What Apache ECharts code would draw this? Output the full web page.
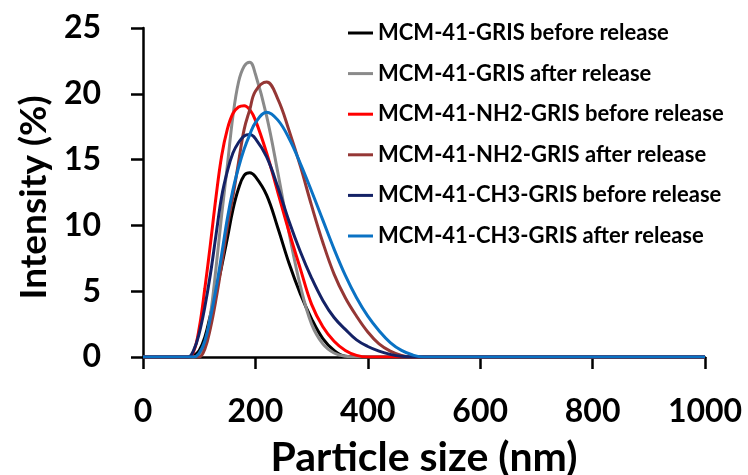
<!DOCTYPE html>
<html>
<head>
<meta charset="UTF-8">
<title>Particle size distribution</title>
<script src="https://cdn.jsdelivr.net/npm/echarts@6/dist/echarts.min.js"></script>
<style>
  html, body { margin: 0; padding: 0; background: #fff; }
  #chart { width: 748px; height: 475px; }
</style>
</head>
<body>
<div id="chart"></div>
<script>
  // particle size (nm) sample positions, shared by every curve
  var sizes = [0, 80, 90, 100, 110, 120, 130, 140, 150, 160, 170, 180, 190, 200, 220, 240, 260, 280, 300, 320, 340, 360, 380, 400, 420, 440, 460, 480, 500, 1000];

  // intensity (%)
  var gris_before     = [0, 0, 0.1, 0.5, 1.5, 3.2, 5.0, 6.9, 9.0, 11.2, 12.8, 13.8, 14.0, 13.7, 12.3, 9.8, 7.1, 4.8, 2.9, 1.4, 0.5, 0.05, 0, 0, 0, 0, 0, 0, 0, 0];
  var gris_after      = [0, 0, 0, 0.2, 1.0, 3.2, 6.8, 10.8, 14.5, 18.3, 20.9, 22.1, 22.4, 21.5, 18.3, 14.0, 9.4, 5.4, 2.5, 1.0, 0.3, 0.05, 0, 0, 0, 0, 0, 0, 0, 0];
  var nh2_before      = [0, 0, 0.4, 2.2, 5.2, 8.6, 12.2, 15.3, 17.3, 18.5, 19.0, 19.1, 18.8, 18.0, 15.5, 12.5, 9.5, 6.7, 4.0, 2.3, 1.2, 0.5, 0.12, 0, 0, 0, 0, 0, 0, 0];
  var nh2_after       = [0, 0, 0, 0, 0.6, 2.2, 4.4, 7.0, 9.9, 12.2, 14.8, 17.3, 18.8, 20.2, 20.9, 19.6, 17.2, 14.5, 11.5, 8.7, 6.3, 4.5, 3.1, 1.9, 1.0, 0.45, 0.12, 0, 0, 0];
  var ch3_before      = [0, 0, 0.5, 1.8, 3.8, 6.3, 9.3, 12.2, 14.1, 15.5, 16.3, 16.8, 16.9, 16.6, 15.2, 12.9, 10.3, 8.0, 6.0, 4.3, 3.0, 2.1, 1.3, 0.8, 0.45, 0.2, 0.05, 0, 0, 0];
  var ch3_after       = [0, 0, 0, 0.3, 1.2, 3.0, 5.2, 7.8, 10.5, 12.7, 14.4, 15.8, 16.9, 17.8, 18.6, 18.0, 16.6, 14.7, 12.6, 10.4, 8.2, 6.2, 4.5, 3.1, 2.0, 1.1, 0.5, 0.15, 0, 0];

  var names = [
    'MCM-41-GRIS before release',
    'MCM-41-GRIS after release',
    'MCM-41-NH2-GRIS before release',
    'MCM-41-NH2-GRIS after release',
    'MCM-41-CH3-GRIS before release',
    'MCM-41-CH3-GRIS after release'
  ];
  var colors = ['#000000', '#8a8a8a', '#ff0000', '#953735', '#142266', '#0a72c4'];
  var values = [gris_before, gris_after, nh2_before, nh2_after, ch3_before, ch3_after];

  var font = 'Lato';

  var series = values.map(function (vals, i) {
    return {
      name: names[i],
      type: 'line',
      smooth: 0.4,
      symbol: 'none',
      data: sizes.map(function (x, k) { return [x, vals[k]]; }),
      lineStyle: { color: colors[i], width: 3 },
      itemStyle: { color: colors[i] }
    };
  });

  var chart = echarts.init(document.getElementById('chart'));
  chart.setOption({
    animation: false,
    backgroundColor: '#fff',
    grid: { left: 143, right: 43, top: 28, bottom: 118, outerBoundsMode: 'none' },
    legend: {
      orient: 'vertical',
      left: 348,
      top: 22,
      padding: 0,
      icon: 'rect',
      itemWidth: 25,
      itemHeight: 3,
      itemGap: 18.6,
      textStyle: { fontFamily: font, fontWeight: 'bold', fontSize: 22, lineHeight: 22, color: '#000' },
      data: names
    },
    xAxis: {
      type: 'value',
      min: 0,
      max: 1000,
      interval: 200,
      name: 'Particle size (nm)',
      nameLocation: 'middle',
      nameGap: 80,
      nameTextStyle: { fontFamily: font, fontWeight: 'bold', fontSize: 41, color: '#000' },
      axisLine: { lineStyle: { color: '#000', width: 2.5 } },
      axisTick: { inside: false, length: 12, lineStyle: { color: '#000', width: 2.5 } },
      axisLabel: {
        margin: 39, fontFamily: font, fontWeight: 'bold', fontSize: 32, color: '#000',
        formatter: function (v) { return String(v); }
      },
      splitLine: { show: false }
    },
    yAxis: {
      type: 'value',
      min: 0,
      max: 25,
      interval: 5,
      name: 'Intensity (%)',
      nameLocation: 'middle',
      nameGap: 90,
      nameTextStyle: { fontFamily: font, fontWeight: 'bold', fontSize: 37, color: '#000', padding: [0, 10, 0, 0] },
      axisLine: { show: true, lineStyle: { color: '#000', width: 2.5 } },
      axisTick: { show: true, inside: false, length: 12, lineStyle: { color: '#000', width: 2.5 } },
      axisLabel: { margin: 42, fontFamily: font, fontWeight: 'bold', fontSize: 32, color: '#000' },
      splitLine: { show: false }
    },
    series: series
  });
</script>
</body>
</html>
